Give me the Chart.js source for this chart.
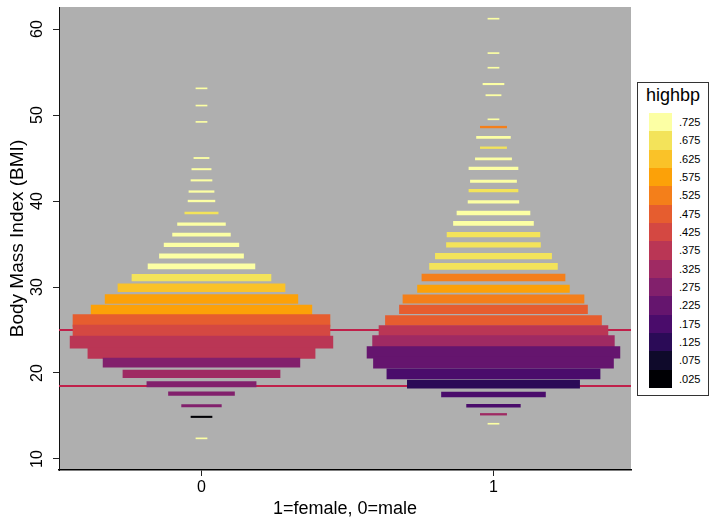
<!DOCTYPE html>
<html>
<head>
<meta charset="utf-8">
<script src="https://cdn.jsdelivr.net/npm/chart.js@4.4.0/dist/chart.umd.min.js"></script>
<style>
  body { margin: 0; background: #fff; font-family: "Liberation Sans", Arial, Helvetica, sans-serif; }
  #wrap { position: relative; width: 711px; height: 518px; }
  #legend { position: absolute; left: 637px; top: 82px; width: 70px; height: 312px; border: 1px solid #333; background: #fff; }
  #legend .ttl { position: absolute; left: 0; right: 0; top: 2px; text-align: center; font-size: 18px; line-height: 21px; color: #000; }
  #legend .row { position: absolute; left: 11px; height: 18.33px; display: flex; align-items: center; }
  #legend .sw { width: 23px; height: 18.33px; }
  #legend .lb { margin-left: 7px; font-size: 11px; color: #000; }
</style>
</head>
<body>
<div id="wrap">
  <canvas id="chart" width="711" height="518"></canvas>
  <div id="legend"><div class="ttl">highbp</div></div>
</div>
<script>
// male (0): BMI bin centres, half-width of each bar (x units), share with high BP
const bmi0    = [12.4, 14.9, 16.2, 17.6, 18.7, 19.9, 21.2, 22.3, 23.6, 24.9, 26.1, 27.3, 28.6, 29.9, 31.1, 32.4, 33.6, 34.9, 36.1, 37.3, 38.6, 40.0, 41.1, 42.4, 43.7, 45.0, 49.2, 51.1, 53.1];
const spread0 = [0.019, 0.036, 0.068, 0.113, 0.187, 0.269, 0.337, 0.389, 0.450, 0.440, 0.440, 0.378, 0.330, 0.286, 0.238, 0.183, 0.144, 0.128, 0.099, 0.082, 0.057, 0.046, 0.043, 0.036, 0.033, 0.026, 0.019, 0.019, 0.019];
const highbp0 = [.725, .025, .275, .275, .275, .325, .275, .375, .375, .425, .475, .575, .575, .625, .675, .725, .725, .725, .725, .725, .675, .725, .725, .725, .725, .725, .725, .725, .725];

// female (1)
const bmi1    = [14.1, 15.2, 16.2, 17.5, 18.7, 19.9, 21.2, 22.4, 23.7, 24.9, 26.1, 27.4, 28.6, 29.8, 31.1, 32.4, 33.6, 34.9, 36.1, 37.4, 38.6, 39.9, 41.2, 42.3, 43.8, 44.9, 46.2, 47.4, 48.6, 49.5, 52.3, 53.6, 55.5, 57.2, 61.2];
const spread1 = [0.019, 0.045, 0.092, 0.178, 0.295, 0.365, 0.411, 0.433, 0.414, 0.392, 0.370, 0.322, 0.310, 0.260, 0.245, 0.219, 0.199, 0.161, 0.159, 0.137, 0.125, 0.087, 0.084, 0.079, 0.084, 0.062, 0.045, 0.058, 0.045, 0.019, 0.026, 0.036, 0.019, 0.019, 0.019];
const highbp1 = [.725, .325, .175, .175, .125, .175, .225, .225, .325, .375, .475, .475, .525, .575, .525, .675, .675, .675, .675, .725, .725, .725, .675, .725, .725, .725, .675, .725, .525, .725, .725, .725, .725, .725, .725];

const xTickLabels = ["0", "1"];
const legendLabels = [".025", ".075", ".125", ".175", ".225", ".275", ".325", ".375", ".425", ".475", ".525", ".575", ".625", ".675", ".725"];
const palette = ["#000004", "#0f0a2b", "#2b0b57", "#4a0c6b", "#65156e", "#82206c", "#9f2a63", "#ba3655",
                 "#d44842", "#e65d2f", "#f47f1a", "#fca108", "#fac228", "#f3e35a", "#fcffa4"];
const cutoffs = [18.5, 25];

const X_MIN = -0.488, X_MAX = 1.471;
const Y_MIN = 8.72, Y_MAX = 62.56;
const FONT = '"Liberation Sans", Arial, Helvetica, sans-serif';

Chart.defaults.font.family = FONT;
Chart.defaults.color = "#000";

const binColor = (v) => palette[Math.round((v - 0.025) / 0.05)];

const datasets = [];
[[bmi0, spread0, highbp0, 0], [bmi1, spread1, highbp1, 1]].forEach(([bmi, spread, hb, g]) => {
  bmi.forEach((b, i) => {
    datasets.push({
      type: "bar",
      indexAxis: "y",
      grouped: false,
      order: 0,
      data: [{ y: b, x: [g - spread[i], g + spread[i]] }],
      backgroundColor: binColor(hb[i]),
      borderWidth: 0,
      // bar height grows with the bar's width
      barThickness: 0.5 + spread[i] * 25.7,
    });
  });
});
cutoffs.forEach((c) => {
  datasets.push({
    type: "line",
    order: 1,
    data: [{ x: X_MIN, y: c }, { x: X_MAX, y: c }],
    borderColor: "#c0204a",
    borderWidth: 2,
    pointRadius: 0,
  });
});

const plotBg = {
  id: "plotBg",
  beforeDraw(chart) {
    const { ctx, chartArea: a } = chart;
    ctx.save();
    ctx.fillStyle = "#afafaf";
    ctx.fillRect(a.left, a.top, a.width, a.height);
    ctx.restore();
  },
};

new Chart(document.getElementById("chart"), {
  type: "bar",
  data: { datasets },
  plugins: [plotBg],
  options: {
    responsive: false,
    animation: false,
    layout: { padding: { top: 7, right: 80, bottom: 0, left: 0 } },
    plugins: { legend: { display: false }, tooltip: { enabled: false } },
    scales: {
      x: {
        type: "linear", min: X_MIN, max: X_MAX, offset: false,
        ticks: { stepSize: 1, includeBounds: false, padding: 2, font: { size: 16 }, color: "#000",
                 callback: (v) => xTickLabels[v] ?? "" },
        grid: { offset: false, drawOnChartArea: false, drawTicks: true, tickLength: 6, color: "#222" },
        border: { display: true, color: "#000", width: 1.5 },
        title: { display: true, text: "1=female, 0=male", font: { size: 18, lineHeight: 1 }, color: "#000", padding: { top: 0, bottom: 0 } },
        afterFit: (s) => { s.height = 48; s.paddingLeft = 0; s.paddingRight = 0; },
      },
      y: {
        type: "linear", min: Y_MIN, max: Y_MAX, offset: false,
        ticks: { stepSize: 10, includeBounds: false, minRotation: 90, maxRotation: 90, crossAlign: "center",
                 padding: 7, font: { size: 16 }, color: "#000" },
        grid: { offset: false, drawOnChartArea: false, drawTicks: true, tickLength: 6, color: "#222" },
        border: { display: true, color: "#111", width: 1 },
        title: { display: true, text: "Body Mass Index (BMI)", font: { size: 19, lineHeight: 1 }, color: "#000", padding: { top: 8, bottom: 0 } },
        afterFit: (s) => { s.width = 59; s.paddingTop = 0; s.paddingBottom = 0; },
      },
    },
  },
});

// colour key, highest bin on top
const legendEl = document.getElementById("legend");
legendLabels.slice().reverse().forEach((lab, i) => {
  const row = document.createElement("div");
  row.className = "row";
  row.style.top = (30 + i * 18.33) + "px";
  row.innerHTML = `<div class="sw" style="background:${palette[palette.length - 1 - i]}"></div><span class="lb">${lab}</span>`;
  legendEl.appendChild(row);
});
</script>
</body>
</html>
